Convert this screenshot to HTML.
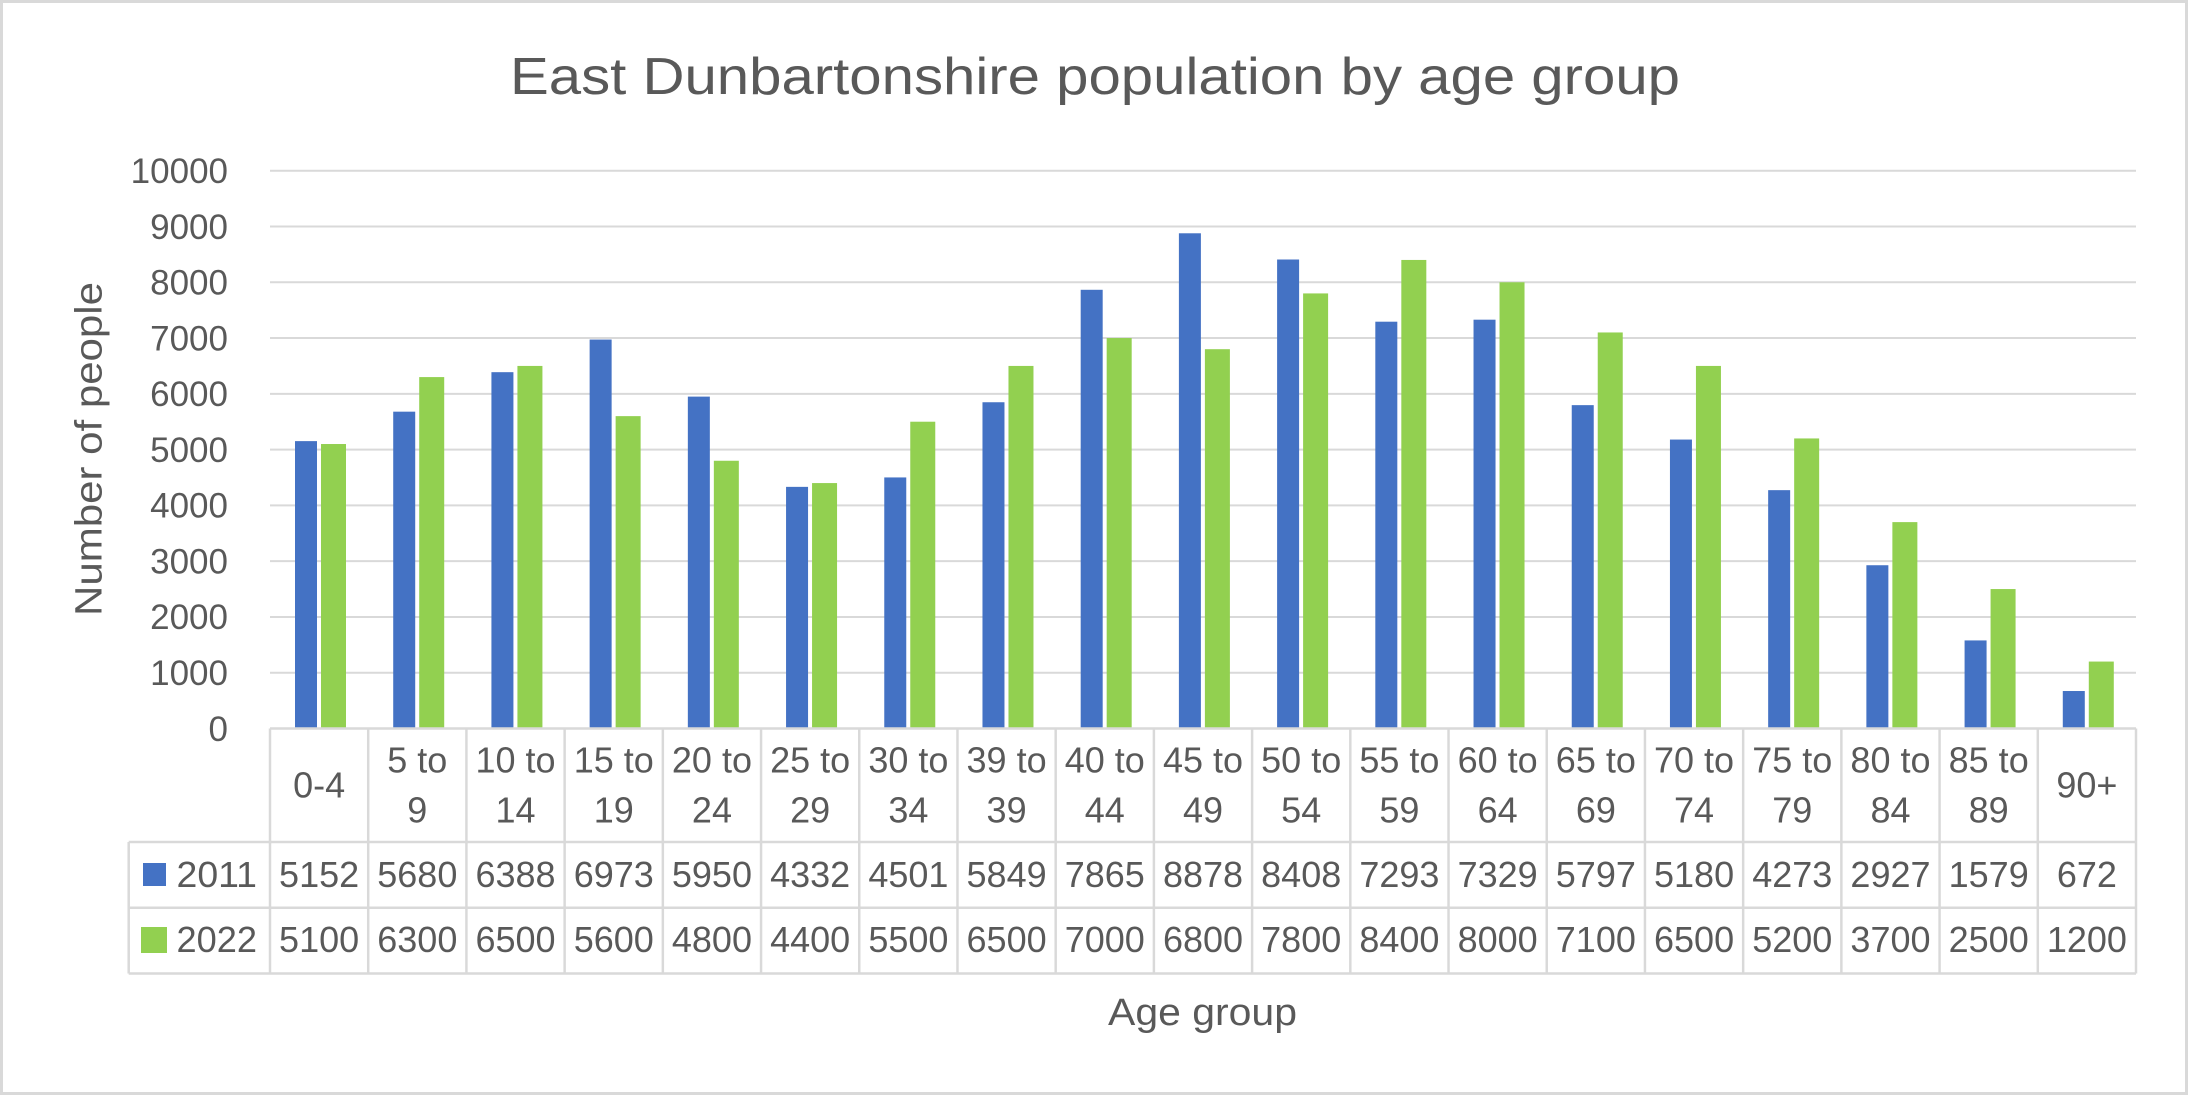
<!DOCTYPE html>
<html><head><meta charset="utf-8"><style>
html,body{margin:0;padding:0;background:#fff;}
svg{display:block;}
text{font-family:"Liberation Sans",sans-serif;fill:#595959;}
</style></head><body>
<svg id="c" width="2189" height="1096" viewBox="0 0 2189 1096" xmlns="http://www.w3.org/2000/svg">
<rect x="0" y="0" width="2189" height="1096" fill="#fff"/>
<rect x="1.5" y="1.5" width="2185" height="1092" fill="none" stroke="#d9d9d9" stroke-width="3"/>
<text x="510" y="94" font-size="52" textLength="1170" lengthAdjust="spacingAndGlyphs">East Dunbartonshire population by age group</text>
<g id="grid" stroke="#d9d9d9" stroke-width="2"></g>
<g id="ylab" font-size="35" text-anchor="end"></g>
<g id="bars"></g>
<g id="tbl" stroke="#d9d9d9" stroke-width="2.5" fill="none"></g>
<g id="tt" font-size="36" text-anchor="middle"></g>
<rect x="143" y="863" width="23" height="23" fill="#4472C4"/>
<text x="176.5" y="887" font-size="36" textLength="80.5" lengthAdjust="spacingAndGlyphs">2011</text>
<rect x="141" y="927" width="26" height="26" fill="#92D050"/>
<text x="176.5" y="952" font-size="36" textLength="80.5" lengthAdjust="spacingAndGlyphs">2022</text>
<text transform="translate(101.7,449) rotate(-90)" x="0" y="0" font-size="38" text-anchor="middle" textLength="334" lengthAdjust="spacingAndGlyphs">Number of people</text>
<text x="1108" y="1025" font-size="38" textLength="189" lengthAdjust="spacingAndGlyphs">Age group</text>
</svg>
<script>
(function(){
var NS="http://www.w3.org/2000/svg";
function el(p,tag,attrs,txt){var e=document.createElementNS(NS,tag);for(var k in attrs)e.setAttribute(k,attrs[k]);if(txt!==undefined)e.textContent=txt;document.getElementById(p).appendChild(e);return e;}
var y0=728.5, ppu=0.05578, L=270, R=2136, cw=(R-L)/19;
for(var i=1;i<=10;i++){var y=y0-i*1000*ppu;el("grid","line",{x1:L,x2:R,y1:y,y2:y});}
for(var i=0;i<=10;i++){var y=y0-i*1000*ppu;el("ylab","text",{x:228,y:y+12.3},String(i*1000));}
var a=[5152,5680,6388,6973,5950,4332,4501,5849,7865,8878,8408,7293,7329,5797,5180,4273,2927,1579,672];
var b=[5100,6300,6500,5600,4800,4400,5500,6500,7000,6800,7800,8400,8000,7100,6500,5200,3700,2500,1200];
var cats=[["0-4"],["5 to","9"],["10 to","14"],["15 to","19"],["20 to","24"],["25 to","29"],["30 to","34"],["39 to","39"],["40 to","44"],["45 to","49"],["50 to","54"],["55 to","59"],["60 to","64"],["65 to","69"],["70 to","74"],["75 to","79"],["80 to","84"],["85 to","89"],["90+"]];
for(var k=0;k<19;k++){
 var c=L+cw*k;
 var ha=a[k]*ppu, hb=b[k]*ppu;
 el("bars","rect",{x:c+25,y:y0-ha,width:22,height:ha,fill:"#4472C4"});
 el("bars","rect",{x:c+51,y:y0-hb,width:25,height:hb,fill:"#92D050"});
 var cx=c+cw/2;
 if(cats[k].length==1){el("tt","text",{x:cx,y:797.5},cats[k][0]);}
 else{el("tt","text",{x:cx,y:772.5},cats[k][0]);el("tt","text",{x:cx,y:822.5},cats[k][1]);}
 el("tt","text",{x:cx,y:887},String(a[k]));
 el("tt","text",{x:cx,y:952},String(b[k]));
}
// table lines
el("tbl","line",{x1:L,x2:R,y1:728.5,y2:728.5});
el("tbl","line",{x1:128.7,x2:R,y1:842,y2:842});
el("tbl","line",{x1:128.7,x2:R,y1:907.7,y2:907.7});
el("tbl","line",{x1:128.7,x2:R,y1:973.5,y2:973.5});
el("tbl","line",{x1:128.7,x2:128.7,y1:842,y2:973.5});
for(var k=0;k<=19;k++){var x=L+cw*k;el("tbl","line",{x1:x,x2:x,y1:728.5,y2:973.5});}
})();
</script>
</body></html>
